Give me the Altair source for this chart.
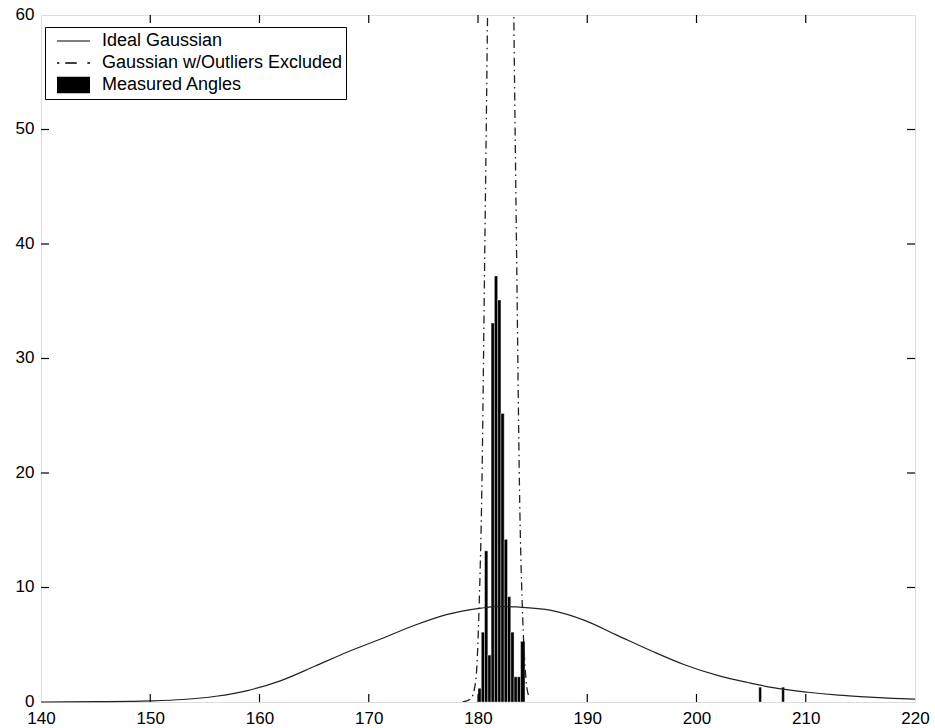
import altair as alt
import pandas as pd

# ---------------- data ----------------
# Measured angles histogram (bin start, bin end, count)
bin_start = [180.0, 180.3, 180.6, 180.9, 181.2, 181.5, 181.8, 182.1, 182.4, 182.7,
             183.0, 183.3, 183.6, 183.9, 205.7, 207.8]
bin_end = [180.3, 180.6, 180.9, 181.2, 181.5, 181.8, 182.1, 182.4, 182.7, 183.0,
           183.3, 183.6, 183.9, 184.3, 205.95, 208.05]
counts = [1.2, 6.1, 13.2, 4.1, 33.1, 37.2, 35.1, 25.2, 14.2, 9.2,
          6.1, 2.2, 2.2, 5.3, 1.3, 1.3]

# Ideal Gaussian (solid curve)
ideal_x = [140, 145, 150, 153, 156, 158.9, 161.9, 165.0, 168.0, 171.1, 174.2,
           177.2, 180.3, 182.0, 183.6, 186.7, 189.7, 192.8, 195.9, 198.9, 202.0,
           204.7, 207.0, 210.2, 213.0, 215.4, 218.0, 220]
ideal_y = [0.0, 0.03, 0.1, 0.22, 0.5, 1.0, 1.85, 3.1, 4.35, 5.5, 6.7,
           7.65, 8.2, 8.35, 8.3, 8.0, 7.15, 5.8, 4.45, 3.25, 2.3,
           1.7, 1.25, 0.85, 0.6, 0.45, 0.32, 0.25]

# Gaussian with outliers excluded (dash-dot curve, peak far above the axis)
excl_x = [178.6, 179.35, 179.8, 180.1, 180.35, 180.6, 180.85, 181.2, 181.6,
          182.07, 182.55, 182.95, 183.3, 183.55, 183.8, 184.1, 184.4, 184.65]
excl_y = [0.0, 0.3, 1.9, 8.3, 18.5, 37.8, 58.0, 90.0, 112.0,
          118.0, 112.0, 90.0, 58.0, 37.8, 18.5, 7.2, 1.9, 0.5]

x_ticks = [140, 150, 160, 170, 180, 190, 200, 210, 220]
y_ticks = [0, 10, 20, 30, 40, 50, 60]
inner_x_ticks = [150, 160, 170, 180, 190, 200, 210]
inner_y_ticks = [10, 20, 30, 40, 50]

legend_names = ["Ideal Gaussian", "Gaussian w/Outliers Excluded", "Measured Angles"]

# ---------------- tables ----------------
hist_df = pd.DataFrame({"start": bin_start, "end": bin_end, "count": counts})
ideal_df = pd.DataFrame({"x": ideal_x, "y": ideal_y})
excl_df = pd.DataFrame({"x": excl_x, "y": excl_y})
xt_df = pd.DataFrame({"v": inner_x_ticks})
yt_df = pd.DataFrame({"v": inner_y_ticks})
leg_df = pd.DataFrame({"series": legend_names})

W, H = 874, 687
FONT = "Liberation Sans"
TICK = 8

xscale = alt.Scale(domain=[140, 220], nice=False, zero=False)
yscale = alt.Scale(domain=[0, 60], nice=False)

x_axis = alt.Axis(values=x_ticks, ticks=False, domain=False, grid=False, labelFlush=False,
                  labelFont=FONT, labelFontSize=17, labelColor="black", labelPadding=8,
                  title=None, format="d")
y_axis = alt.Axis(values=y_ticks, ticks=False, domain=False, grid=False,
                  labelFont=FONT, labelFontSize=17, labelColor="black", labelPadding=7,
                  labelOffset=-1, title=None, format="d")

bars = alt.Chart(hist_df).mark_rect(color="black", stroke="white", strokeWidth=0.4).encode(
    x=alt.X("start:Q", scale=xscale, axis=x_axis),
    x2="end:Q",
    y=alt.Y("count:Q", scale=yscale, axis=y_axis),
    y2=alt.datum(0),
)

ideal = alt.Chart(ideal_df).mark_line(color="#222222", strokeWidth=1.2, interpolate="monotone").encode(
    x=alt.X("x:Q", scale=xscale),
    y=alt.Y("y:Q", scale=yscale),
)

excl = alt.Chart(excl_df).mark_line(color="#222222", strokeWidth=1.3, interpolate="monotone",
                                     strokeDash=[8, 4, 1.5, 4], clip=True).encode(
    x=alt.X("x:Q", scale=xscale),
    y=alt.Y("y:Q", scale=yscale),
)

tick_style = dict(color="black", strokeWidth=1.2)
bottom_ticks = alt.Chart(xt_df).mark_rule(**tick_style).encode(
    x=alt.X("v:Q", scale=xscale), y=alt.value(H), y2=alt.value(H - TICK))
top_ticks = alt.Chart(xt_df).mark_rule(**tick_style).encode(
    x=alt.X("v:Q", scale=xscale), y=alt.value(0), y2=alt.value(TICK))
left_ticks = alt.Chart(yt_df).mark_rule(**tick_style).encode(
    y=alt.Y("v:Q", scale=yscale), x=alt.value(0), x2=alt.value(TICK))
right_ticks = alt.Chart(yt_df).mark_rule(**tick_style).encode(
    y=alt.Y("v:Q", scale=yscale), x=alt.value(W), x2=alt.value(W - TICK))

shape_paths = [
    "M-1,-0.035H1V0.035H-1Z",
    "M-1,-0.04H-0.86V0.04H-1Z M-0.5,-0.04H0.2V0.04H-0.5Z M0.84,-0.04H1V0.04H0.84Z",
    "M-1,-0.5H1V0.5H-1Z",
]
legend_layer = alt.Chart(leg_df).mark_point(filled=True, color="black", opacity=0).encode(
    shape=alt.Shape("series:N",
                    scale=alt.Scale(domain=legend_names, range=shape_paths),
                    legend=alt.Legend(
                        title=None, orient="none", legendX=4, legendY=12,
                        strokeColor="black", fillColor="white", padding=3,
                        symbolOffset=9, symbolSize=1089, symbolFillColor="black",
                        symbolStrokeColor="black", symbolStrokeWidth=0, symbolOpacity=1,
                        labelFont=FONT, labelFontSize=18, labelColor="black",
                        labelOffset=12, clipHeight=22, rowPadding=0, labelLimit=400,
                    )),
)

chart = alt.layer(
    bars, ideal, excl, bottom_ticks, top_ticks, left_ticks, right_ticks, legend_layer
).properties(
    width=W, height=H,
    autosize=alt.AutoSizeParams(type="none"),
    padding={"left": 41, "top": 15, "right": 20, "bottom": 26},
).configure_view(
    stroke="black", strokeWidth=1.5
).configure(background="white")

chart.save("out.html", embed_options={"renderer": "svg", "actions": False})
